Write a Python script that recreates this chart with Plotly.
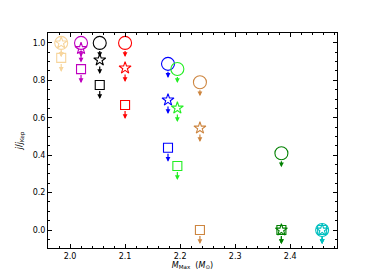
import plotly.graph_objects as go

# Data
groups = ["g1", "g2", "g3", "g4", "g5", "g6", "g7", "g8", "g9"]
colors = ["#f7d59c", "#bf00bf", "#000000", "#ff0000", "#0000ff", "#22ee22", "#cd853f", "#008000", "#00bfbf"]
m_max = [1.984, 2.020, 2.054, 2.100, 2.178, 2.195, 2.236, 2.384, 2.458]
circle_y = [1.00, 1.00, 1.00, 1.00, 0.888, 0.861, 0.79, 0.41, 0.00]
star_y = [1.00, 0.97, 0.909, 0.866, 0.695, 0.652, 0.545, 0.00, 0.00]
square_y = [0.92, 0.86, 0.775, 0.668, 0.44, 0.342, 0.00, 0.00, 0.00]

x_ticks = [2.0, 2.1, 2.2, 2.3, 2.4]
y_ticks = [0.0, 0.2, 0.4, 0.6, 0.8, 1.0]

fig = go.Figure()
annotations = []
arrow_len = 0.075

series = [("circle-open", 13, circle_y, 6.5), ("star-open", 9, star_y, 5), ("square-open", 9, square_y, 4.5)]
for i, col in enumerate(colors):
    for sym, size, ys, r in series:
        fig.add_trace(go.Scatter(
            x=[m_max[i]], y=[ys[i]], mode="markers",
            marker=dict(symbol=sym, size=size, color=col, line=dict(width=1.1, color=col)),
            showlegend=False, hoverinfo="skip"))
        annotations.append(dict(
            x=m_max[i], y=ys[i] - arrow_len, ax=m_max[i], ay=ys[i],
            xref="x", yref="y", axref="x", ayref="y", showarrow=True, text="",
            arrowhead=2, arrowsize=0.8, arrowwidth=1.2, arrowcolor=col,
            startstandoff=r))

axis_common = dict(
    showgrid=False, zeroline=False, showline=True, linecolor="black", linewidth=1,
    mirror="allticks", ticks="inside", ticklen=4, tickcolor="black", tickwidth=1,
    tickfont=dict(family="DejaVu Sans", size=8, color="black"),
)

fig.update_xaxes(
    range=[1.96, 2.485], tickvals=x_ticks, ticktext=[f"{v:.1f}" for v in x_ticks],
    minor=dict(dtick=0.02, ticks="inside", ticklen=2, tickcolor="black", showgrid=False),
    title=dict(text="<i>M</i><sub>Max</sub>  (<i>M</i><sub>⊙</sub>)", font=dict(family="DejaVu Sans", size=8, color="black"), standoff=2),
    **axis_common)
fig.update_yaxes(
    range=[-0.096, 1.053], tickvals=y_ticks, ticktext=[f"{v:.1f}" for v in y_ticks],
    minor=dict(dtick=0.05, ticks="inside", ticklen=2, tickcolor="black", showgrid=False),
    title=dict(text="<i>j</i>/<i>j</i><sub>Kep</sub>", font=dict(family="DejaVu Sans", size=8, color="black"), standoff=8),
    **axis_common)

fig.update_layout(
    width=374, height=280, margin=dict(l=40, r=45, t=25, b=40),
    plot_bgcolor="white", paper_bgcolor="white", annotations=annotations)

fig.write_html("out.html")
